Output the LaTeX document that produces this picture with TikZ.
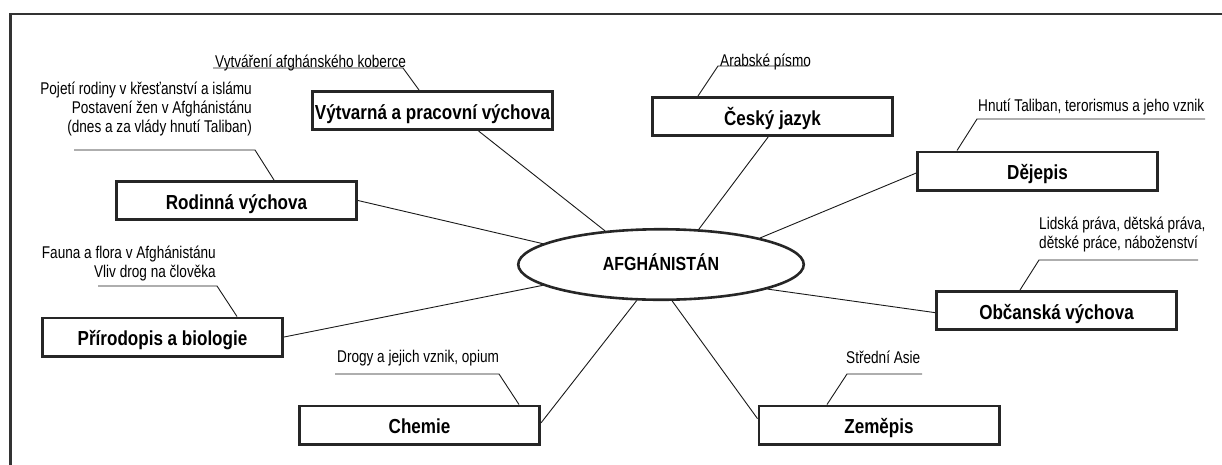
\documentclass[tikz,border=0pt]{standalone}
\usepackage{fontspec}
\setmainfont{Liberation Sans}
\newfontfamily\notefamily[FakeStretch=0.8]{Liberation Sans}
\newfontfamily\subjectfamily[FakeStretch=0.84]{Liberation Sans}
\usetikzlibrary{shapes.geometric}

\begin{document}
\begin{tikzpicture}[
	x=1pt,
	y=-1pt,
	frameline/.style={
		draw=black!80,
		line width=2.7pt
	},
	subjectbox/.style={
		rectangle,
		draw=black!85,
		line width=2.6pt,
		minimum width=240.4pt,
		minimum height=38.4pt,
		inner sep=0pt,
		text height=20pt,
		text depth=3pt,
		font=\subjectfamily\bfseries\fontsize{20.3}{22}\selectfont
	},
	topicellipse/.style={
		ellipse,
		draw=black!85,
		line width=2.6pt,
		minimum width=285.5pt,
		minimum height=70.5pt,
		inner sep=0pt,
		text height=14pt,
		text depth=2pt,
		font=\subjectfamily\bfseries\fontsize{19}{21}\selectfont
	},
	notetext/.style={
		inner sep=0pt,
		font=\notefamily\fontsize{17}{19}\selectfont
	},
	spoke/.style={
		draw=black!90,
		line width=0.9pt
	},
	leader/.style={
		draw=black!90,
		line width=0.9pt
	}
]

\useasboundingbox (0,0) rectangle (1222,464);
\draw[frameline] (10.5,14) rectangle (1240,480);



\node (afg) at (661,264.5) [topicellipse] {AFGHÁNISTÁN};

% name / x / y / subject
\foreach \name/\x/\y/\subject in {
	vytvarna/432.5/110.5/{Výtvarná a pracovní výchova},
	cesky/772.5/116.5/{Český jazyk},
	dejepis/1037.5/171/{Dějepis},
	rodinna/236.5/200.5/{Rodinná výchova},
	prirodopis/162.5/337/{Přírodopis a biologie},
	obcanska/1056.5/310.5/{Občanská výchova},
	chemie/419.5/425/{Chemie},
	zemepis/879/425/{Zeměpis}%
} {
	\node (\name) at (\x,\y) [subjectbox] {\subject};
}

% box angle / ellipse angle
\foreach \name/\from/\to in {
	vytvarna/-24/149,
	cesky/-102/43,
	dejepis/181/15.8,
	rodinna/0.7/170.6,
	prirodopis/0/190.8,
	obcanska/181/-13.5,
	chemie/1/236.7,
	zemepis/177.6/-73%
} {
	\draw[spoke] (\name.\from) -- (afg.\to);
}



% multi-line notes sit on the baseline of their last line
\node (koberec) at (215,67) [notetext, anchor=base west] {Vytváření afghánského koberce};
\node (pismo) at (720,66) [notetext, anchor=base west] {Arabské písmo};
\node (taliban) at (978,111) [notetext, anchor=base west] {Hnutí Taliban, terorismus a jeho vznik};
\node (rodina) at (252,132) [notetext, anchor=base east, align=right] {Pojetí rodiny v křesťanství a islámu\\Postavení žen v Afghánistánu\\(dnes a za vlády hnutí Taliban)};
\node (fauna) at (216,277) [notetext, anchor=base east, align=right] {Fauna a flora v Afghánistánu\\Vliv drog na člověka};
\node (prava) at (1039,248) [notetext, anchor=base west, align=left] {Lidská práva, dětská práva,\\dětské práce, náboženství};
\node (drogy) at (337,362) [notetext, anchor=base west] {Drogy a jejich vznik, opium};
\node (asie) at (846,363) [notetext, anchor=base west] {Střední Asie};

% note / free end / elbow / y / subject box / shift along the top
\foreach \note/\ax/\bx/\y/\target/\dx in {
	koberec/213/403/68/vytvarna/-13.5,
	pismo/808/718/66/cesky/-74.5,
	taliban/1205/977/119/dejepis/-80.5,
	rodina/74/255/150/rodinna/37.5,
	fauna/98/217/286/prirodopis/74.5,
	prava/1198/1039/260/obcanska/-36.5,
	drogy/335/499/374/chemie/99.5,
	asie/922/847/374/zemepis/-52%
} {
	\coordinate (\note-end) at (\ax,\y);
	\coordinate (\note-elbow) at (\bx,\y);
	\draw[leader] (\note-end) -- (\note-elbow) -- ([xshift=\dx pt]\target.north);
}

\end{tikzpicture}
\end{document}
